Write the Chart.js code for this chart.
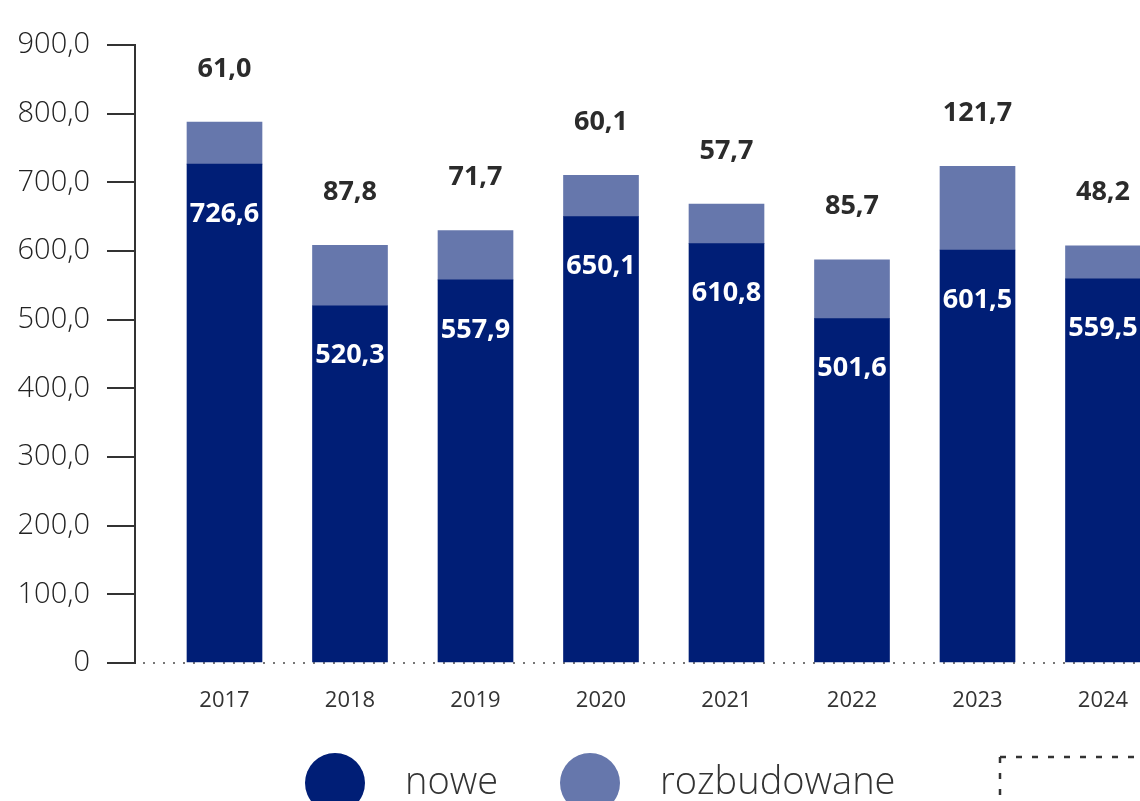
<!DOCTYPE html>
<html>
<head>
<meta charset="utf-8">
<script src="https://cdn.jsdelivr.net/npm/chart.js@4"></script>
<style>
  html, body { margin: 0; padding: 0; background: #fff; overflow: hidden; }
  #wrap { position: relative; width: 1140px; height: 801px; }
</style>
</head>
<body>
<div id="wrap"><canvas id="budynkiChart"></canvas></div>
<script>
// dane
var lata = [2017, 2018, 2019, 2020, 2021, 2022, 2023, 2024];
var nowe = [726.6, 520.3, 557.9, 650.1, 610.8, 501.6, 601.5, 559.5];
var rozbudowane = [61.0, 87.8, 71.7, 60.1, 57.7, 85.7, 121.7, 48.2];
var yTicks = [0, 100, 200, 300, 400, 500, 600, 700, 800, 900];

var ciemny = 'rgb(0, 30, 118)';
var jasny = 'rgb(102, 119, 172)';
var FONT = "'Open Sans', 'Noto Sans', sans-serif";

function fmt(v) {
    return v.toFixed(1).replace('.', ',');
}

document.addEventListener("DOMContentLoaded", function () {
    var ctx = document.getElementById('budynkiChart').getContext('2d');

    // kropkowana linia zera
    var linia0 = {
        id: 'linia0',
        beforeDatasetsDraw: function (chart) {
            var c = chart.ctx;
            var y = chart.scales.y.getPixelForValue(0);
            c.save();
            c.strokeStyle = '#777';
            c.lineWidth = 2;
            c.setLineDash([2, 8]);
            c.beginPath();
            c.moveTo(chart.chartArea.left + 8, y);
            c.lineTo(chart.chartArea.right, y);
            c.stroke();
            c.restore();
        }
    };

    // podpisy wartosci na slupkach
    var etykiety = {
        id: 'etykiety',
        afterDatasetsDraw: function (chart) {
            var c = chart.ctx;
            c.save();
            c.textAlign = 'center';
            c.textBaseline = 'middle';
            var m0 = chart.getDatasetMeta(0);
            var m1 = chart.getDatasetMeta(1);
            c.font = "bold 27px " + FONT;
            m0.data.forEach(function (bar, i) {
                c.fillStyle = '#fff';
                c.fillText(fmt(nowe[i]), bar.x, bar.y + 50);
            });
            m1.data.forEach(function (bar, i) {
                c.fillStyle = '#2b2b2b';
                c.fillText(fmt(rozbudowane[i]), bar.x, bar.y - 53);
            });
            c.restore();
        }
    };

    // legenda pod wykresem
    var legenda = {
        id: 'legenda',
        afterDraw: function (chart) {
            var c = chart.ctx;
            var ds = chart.data.datasets;
            var pos = [{cx: 335, tx: 405}, {cx: 590, tx: 660}];
            c.save();
            c.textBaseline = 'middle';
            c.textAlign = 'left';
            c.font = "300 38px " + FONT;
            ds.forEach(function (d, i) {
                c.beginPath();
                c.fillStyle = d.backgroundColor;
                c.arc(pos[i].cx, 783, 30, 0, Math.PI * 2);
                c.fill();
                c.fillStyle = '#333';
                c.fillText(d.label, pos[i].tx, 783);
            });
            c.strokeStyle = '#333';
            c.lineWidth = 2.5;
            c.setLineDash([6, 10]);
            c.beginPath();
            c.moveTo(1000, 757);
            c.lineTo(1140, 757);
            c.moveTo(1000, 757);
            c.lineTo(1000, 801);
            c.stroke();
            c.restore();
        }
    };

    var chart = new Chart(ctx, {
        type: 'bar',
        data: {
            datasets: [{
                label: 'nowe',
                data: lata.map(function (r, i) { return {x: r, y: nowe[i]}; }),
                backgroundColor: ciemny,
                barThickness: 75
            }, {
                label: 'rozbudowane',
                data: lata.map(function (r, i) { return {x: r, y: rozbudowane[i]}; }),
                backgroundColor: jasny,
                barThickness: 75
            }]
        },
        options: {
            responsive: true,
            maintainAspectRatio: false,
            animation: false,
            layout: { padding: { top: 45, left: 0, right: 0, bottom: 0 } },
            scales: {
                x: {
                    type: 'linear',
                    stacked: true,
                    offset: false,
                    min: 2017 - 89.5 / 125.5,
                    max: 2017 - 89.5 / 125.5 + 1005 / 125.5,
                    afterBuildTicks: function (scale) {
                        scale.ticks = lata.map(function (r) { return {value: r}; });
                    },
                    afterFit: function (scale) {
                        scale.height = 138;
                        scale.paddingLeft = 0;
                        scale.paddingRight = 0;
                    },
                    grid: { display: false, drawTicks: false },
                    border: { display: false },
                    ticks: {
                        padding: 25,
                        color: '#333',
                        font: { family: FONT, size: 22, weight: '400' },
                        callback: function (v) { return String(v); }
                    }
                },
                y: {
                    stacked: true,
                    min: 0,
                    max: 900,
                    afterBuildTicks: function (scale) {
                        scale.ticks = yTicks.map(function (v) { return {value: v}; });
                    },
                    afterFit: function (scale) { scale.width = 135; },
                    grid: {
                        drawOnChartArea: false,
                        drawTicks: true,
                        tickLength: 28,
                        color: '#333',
                        lineWidth: 2
                    },
                    border: { display: true, color: '#333', width: 2 },
                    ticks: {
                        padding: 17,
                        color: '#222',
                        font: { family: FONT, size: 29, weight: '300' },
                        callback: function (v) { return v === 0 ? '0' : fmt(v); }
                    }
                }
            },
            plugins: {
                legend: { display: false },
                tooltip: { enabled: false }
            }
        },
        plugins: [linia0, etykiety, legenda]
    });
});
</script>
</body>
</html>
